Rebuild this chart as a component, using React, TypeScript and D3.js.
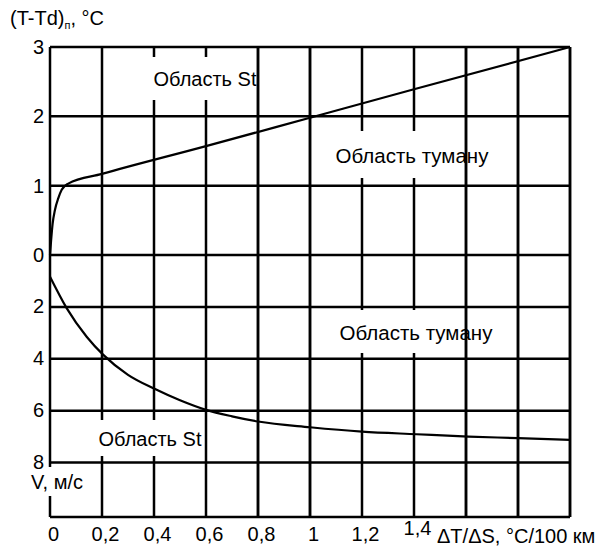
import React from "react";
import * as d3 from "d3";

// ---- data ----
const xGrid = [0, 0.2, 0.4, 0.6, 0.8, 1.0, 1.2, 1.4, 1.6, 1.8, 2.0];
const xTickValues = [0, 0.2, 0.4, 0.6, 0.8, 1.0, 1.2, 1.4];
const xTickLabels = ["0", "0,2", "0,4", "0,6", "0,8", "1", "1,2", "1,4"];
const topTicks = [0, 1, 2, 3];
const topTickLabels = ["0", "1", "2", "3"];
const botTicks = [2, 4, 6, 8];
const botTickLabels = ["2", "4", "6", "8"];

// upper curve: (T-Td)п vs ΔT/ΔS
const topCurveX = [0, 0.004, 0.01, 0.019, 0.032, 0.045, 0.07, 0.2, 0.6, 1.0, 1.4, 2.0];
const topCurveY = [0, 0.2, 0.45, 0.65, 0.82, 0.94, 1.03, 1.17, 1.57, 1.98, 2.39, 3.0];

// lower curve: V vs ΔT/ΔS
const botCurveX = [0, 0.064, 0.141, 0.205, 0.3, 0.4, 0.5, 0.6, 0.7, 0.8, 1.0, 1.2, 1.41, 1.61, 1.8, 2.0];
const botCurveY = [0.84, 2.05, 3.15, 3.85, 4.62, 5.15, 5.6, 5.97, 6.22, 6.42, 6.64, 6.81, 6.91, 7.0, 7.06, 7.13];

const FONT = "'Liberation Sans', Arial, Helvetica, sans-serif";

export default function App() {
  const W = 608, H = 554;
  const L = 50, R = 570, T = 47, B = 517, Y0 = 255;
  const x = d3.scaleLinear().domain([0, 2]).range([L, R]);
  const yTop = d3.scaleLinear().domain([0, 3]).range([Y0, T]);
  const yBot = d3.scaleLinear().domain([0, 8]).range([Y0, 462.5]);

  const line = d3.line<[number, number]>().curve(d3.curveMonotoneX);
  const topPts: [number, number][] = topCurveX.map((v, i) => [x(v), yTop(topCurveY[i])]);
  const botPts: [number, number][] = botCurveX.map((v, i) => [x(v), yBot(botCurveY[i])]);

  const fs = 20;
  const boxes = [
    { x0: 143, x1: 256, y0: 57, y1: 100, text: "Область St", cx: 205, cy: 79, f: 20 },
    { x0: 313, x1: 464, y0: 131, y1: 178, text: "Область туману", cx: 412, cy: 155, f: 20.5 },
    { x0: 313, x1: 464, y0: 310, y1: 353, text: "Область туману", cx: 416, cy: 332, f: 20.5 },
    { x0: 92, x1: 204, y0: 420, y1: 456, text: "Область St", cx: 150, cy: 439, f: 20 },
    { x0: 24, x1: 92, y0: 467, y1: 496, text: "V, м/с", cx: 57, cy: 482, f: 20 },
  ];
  const gridStroke = 2.5;

  const vLines = (filter: boolean) =>
    xGrid
      .filter((v) => !filter || !boxes.some((b) => x(v) > b.x0 && x(v) < b.x1))
      .map((v) => (
        <line key={"v" + v} x1={x(v)} x2={x(v)} y1={T} y2={B} stroke="#000" strokeWidth={gridStroke} />
      ));

  return (
    <svg width={W} height={H} style={{ position: "absolute", left: 0, top: 0, background: "#fff" }} fontFamily={FONT}>
      <rect x={0} y={0} width={W} height={H} fill="#fff" />
      {/* horizontal grid */}
      {topTicks.map((v) => (
        <line key={"ht" + v} x1={L} x2={R} y1={yTop(v)} y2={yTop(v)} stroke="#000" strokeWidth={gridStroke} />
      ))}
      {botTicks.map((v) => (
        <line key={"hb" + v} x1={L} x2={R} y1={yBot(v)} y2={yBot(v)} stroke="#000" strokeWidth={gridStroke} />
      ))}
      <line x1={L} x2={R} y1={B} y2={B} stroke="#000" strokeWidth={gridStroke} />
      {vLines(false)}
      {/* curves */}
      <path d={line(topPts) || ""} fill="none" stroke="#000" strokeWidth={2.2} />
      <path d={line(botPts) || ""} fill="none" stroke="#000" strokeWidth={2.2} />
      {/* label boxes */}
      {boxes.map((b, i) => (
        <g key={"b" + i}>
          <rect x={b.x0} y={b.y0} width={b.x1 - b.x0} height={b.y1 - b.y0} fill="#fff" />
          <text x={b.cx} y={b.cy} textAnchor="middle" dominantBaseline="central" fontSize={b.f} fill="#000">
            {b.text}
          </text>
        </g>
      ))}
      {vLines(true)}
      {/* y tick labels */}
      {topTicks.map((v, i) => (
        <text key={"tl" + v} x={44} y={yTop(v)} textAnchor="end" dominantBaseline="central" fontSize={fs}>
          {topTickLabels[i]}
        </text>
      ))}
      {botTicks.map((v, i) => (
        <text key={"bl" + v} x={44} y={yBot(v) - 1} textAnchor="end" dominantBaseline="central" fontSize={fs}>
          {botTickLabels[i]}
        </text>
      ))}
      {/* x tick labels */}
      {xTickValues.map((v, i) => (
        <text key={"xl" + v} x={x(v) + 3.5} y={v === 1.4 ? 535 : 541} textAnchor="middle" fontSize={fs}>
          {xTickLabels[i]}
        </text>
      ))}
      <text x={437} y={543} fontSize={20}>ΔT/ΔS, °C/100 км</text>
      {/* y title */}
      <text x={10} y={25} fontSize={fs}>
        (T-Td)<tspan fontSize={11} dy={4}>п</tspan>
        <tspan dy={-4}>, °C</tspan>
      </text>
    </svg>
  );
}
